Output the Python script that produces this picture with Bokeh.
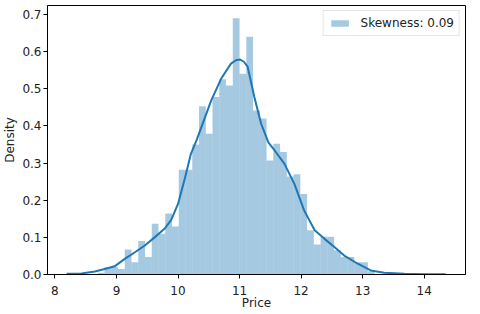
from bokeh.plotting import figure
from bokeh.models import Range1d, FixedTicker, Legend, LegendItem, NumeralTickFormatter
from bokeh.embed import file_html
from bokeh.resources import INLINE

# ---- data ----
bin_start = 8.696
bin_width = 0.1097
hist_density = [0.005, 0.02, 0.02, 0.015, 0.067, 0.033, 0.09, 0.047, 0.137, 0.11,
                0.164, 0.129, 0.282, 0.282, 0.35, 0.453, 0.379, 0.478, 0.526, 0.509,
                0.69, 0.541, 0.64, 0.442, 0.42, 0.307, 0.352, 0.33, 0.264, 0.27,
                0.217, 0.119, 0.081, 0.102, 0.102, 0.065, 0.047, 0.047, 0.033, 0.033,
                0.009]
kde_x = [8.19, 8.43, 8.65, 8.81, 8.97, 9.135, 9.30, 9.46, 9.62, 9.78, 9.89, 10.0,
         10.11, 10.21, 10.30, 10.38, 10.54, 10.70, 10.86, 10.94, 11.01, 11.07, 11.13,
         11.24, 11.35, 11.47, 11.57, 11.73, 11.89, 12.05, 12.22, 12.38, 12.54, 12.70,
         12.92, 13.13, 13.35, 13.68, 14.0, 14.35]
kde_y = [0.002, 0.003, 0.008, 0.015, 0.022, 0.042, 0.06, 0.078, 0.10, 0.123, 0.147, 0.19,
         0.258, 0.325, 0.361, 0.397, 0.469, 0.527, 0.568, 0.577, 0.579, 0.573, 0.56,
         0.478, 0.406, 0.355, 0.334, 0.298, 0.244, 0.172, 0.119, 0.096, 0.074, 0.051,
         0.029, 0.011, 0.005, 0.002, 0.001, 0.0005]
x_ticks = [8, 9, 10, 11, 12, 13, 14]
y_ticks = [0.0, 0.1, 0.2, 0.3, 0.4, 0.5, 0.6, 0.7]
legend_label = "Skewness: 0.09"
x_label = "Price"
y_label = "Density"

lefts = [bin_start + i * bin_width for i in range(len(hist_density))]
rights = [l + bin_width for l in lefts]

FONT = "DejaVu Sans"
BLUE = "#1f77b4"
TXT = "#222222"

x0, x1 = 7.88, 14.67
p = figure(frame_width=418, frame_height=269, output_backend="svg", toolbar_location=None,
           x_range=Range1d(x0, x1), y_range=Range1d(0, 0.7245),
           min_border_left=42, min_border_right=4, min_border_top=5, min_border_bottom=0)

bars = p.quad(left=lefts, right=rights, bottom=0, top=hist_density,
              fill_color=BLUE, fill_alpha=0.4, line_color=None)
p.line(kde_x, kde_y, line_color=BLUE, line_width=2)

p.xgrid.visible = False
p.ygrid.visible = False
p.outline_line_color = "black"
p.outline_line_width = 1
p.background_fill_color = "white"
p.border_fill_color = "white"

for ax in (p.xaxis[0], p.yaxis[0]):
    ax.axis_line_color = "black"
    ax.major_tick_line_color = "black"
    ax.major_tick_out = 4
    ax.major_tick_in = 0
    ax.minor_tick_line_color = None
    ax.major_label_text_font = FONT
    ax.major_label_text_font_size = "12px"
    ax.major_label_text_color = TXT
    ax.axis_label_text_font = FONT
    ax.axis_label_text_font_size = "12px"
    ax.axis_label_text_font_style = "normal"
    ax.axis_label_text_color = TXT
    ax.major_label_standoff = 2
    ax.axis_label_standoff = 2

p.xaxis.major_label_standoff = 7
p.xaxis.axis_label_standoff = -2

p.xaxis.ticker = FixedTicker(ticks=x_ticks)
p.yaxis.ticker = FixedTicker(ticks=y_ticks)
p.yaxis.formatter = NumeralTickFormatter(format="0.0")
p.xaxis.axis_label = x_label
p.yaxis.axis_label = y_label

legend = Legend(items=[LegendItem(label=legend_label, renderers=[bars])],
                location="top_right")
legend.label_text_font = FONT
legend.label_text_font_size = "12px"
legend.label_text_color = TXT
legend.label_height = 12
legend.glyph_width = 22
legend.glyph_height = 8
legend.label_standoff = 10
legend.padding = 5
legend.spacing = 0
legend.margin = 5
legend.border_line_color = "#cccccc"
legend.border_line_width = 1
legend.background_fill_alpha = 0.8
p.add_layout(legend)

open("out.html", "w").write(file_html(p, INLINE))
